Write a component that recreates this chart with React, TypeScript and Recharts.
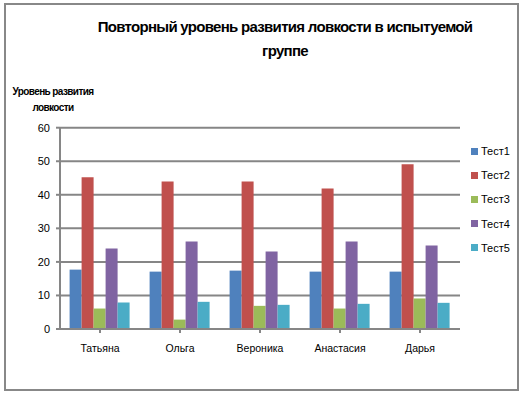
import React from 'react';
import { BarChart, Bar, XAxis, YAxis, CartesianGrid } from 'recharts';

const names = ['Татьяна', 'Ольга', 'Вероника', 'Анастасия', 'Дарья'];
const test1 = [17.7, 17.1, 17.4, 17.1, 17.1];
const test2 = [45.2, 44, 44, 41.9, 49.1];
const test3 = [6.1, 2.8, 6.9, 6.1, 9.1];
const test4 = [24, 26.1, 23.1, 26.1, 24.9];
const test5 = [7.9, 8.1, 7.2, 7.5, 7.8];
const yTicks = [0, 10, 20, 30, 40, 50, 60];

const seriesNames = ['Тест1', 'Тест2', 'Тест3', 'Тест4', 'Тест5'];
const colors = ['#4F81BD', '#C0504D', '#9BBB59', '#8064A2', '#4BACC6'];

const data = names.map((name, i) => ({
  name,
  t1: test1[i],
  t2: test2[i],
  t3: test3[i],
  t4: test4[i],
  t5: test5[i],
}));

const font = '"Liberation Sans", Arial, sans-serif';

const App: React.FC = () => {
  return (
    <div style={{ position: 'absolute', left: 0, top: 0, width: 522, height: 395, background: '#fff', fontFamily: font }}>
      <div
        style={{
          position: 'absolute', left: 4, top: 3, width: 511, height: 384,
          border: '2px solid #888', boxSizing: 'content-box',
        }}
      />
      <div
        style={{
          position: 'absolute', left: 60, width: 450, top: 15, textAlign: 'center',
          fontSize: 15, fontWeight: 'bold', letterSpacing: -0.7, lineHeight: '24px', color: '#000',
        }}
      >
        Повторный уровень развития ловкости в испытуемой<br />группе
      </div>
      <div
        style={{
          position: 'absolute', left: 3, width: 100, top: 84, textAlign: 'center',
          fontSize: 10, fontWeight: 'bold', letterSpacing: -0.6, lineHeight: '16px', color: '#000',
        }}
      >
        Уровень развития<br />ловкости
      </div>

      <BarChart
        width={522}
        height={395}
        data={data}
        margin={{ top: 127.7, right: 62, bottom: 36, left: 5 }}
        barCategoryGap="12%"
        barGap={0}
        style={{ position: 'absolute', left: 0, top: 0 }}
      >
        <CartesianGrid vertical={false} stroke="#868686" strokeWidth={2} />
        <XAxis
          dataKey="name"
          height={30}
          axisLine={{ stroke: '#868686', strokeWidth: 2 }}
          tickLine={{ stroke: '#868686', strokeWidth: 2 }}
          tickSize={4}
          tick={{ fill: '#000', fontSize: 10.5, fontFamily: font }}
          interval={0}
          tickMargin={12}
        />
        <YAxis
          width={55}
          domain={[0, 60]}
          ticks={yTicks}
          interval={0}
          axisLine={{ stroke: '#868686', strokeWidth: 2 }}
          tickLine={{ stroke: '#868686', strokeWidth: 2 }}
          tickSize={4}
          tickMargin={6}
          tick={{ fill: '#000', fontSize: 11, fontFamily: font }}
        />
        <Bar dataKey="t1" fill={colors[0]} isAnimationActive={false} />
        <Bar dataKey="t2" fill={colors[1]} isAnimationActive={false} />
        <Bar dataKey="t3" fill={colors[2]} isAnimationActive={false} />
        <Bar dataKey="t4" fill={colors[3]} isAnimationActive={false} />
        <Bar dataKey="t5" fill={colors[4]} isAnimationActive={false} />
      </BarChart>

      {seriesNames.map((s, i) => (
        <div
          key={s}
          style={{
            position: 'absolute', left: 471, top: 143 + i * 24.2, height: 16,
            display: 'flex', alignItems: 'center', fontSize: 11, color: '#000',
          }}
        >
          <div style={{ width: 7, height: 7, background: colors[i], marginRight: 3 }} />
          <span>{s}</span>
        </div>
      ))}
    </div>
  );
};

export default App;
